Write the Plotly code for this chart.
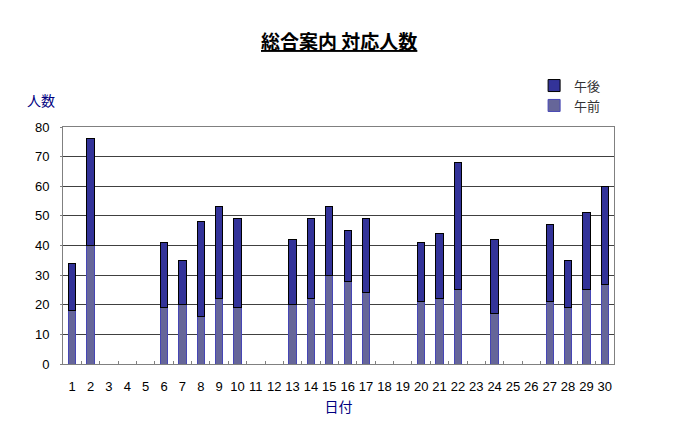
import plotly.graph_objects as go

days = [str(d) for d in range(1, 31)]

# 午前 (morning) and 午後 (afternoon) counts per day; None = no data
morning = [18, 40, None, None, None, 19, 20, 16, 22, 19,
           None, None, 20, 22, 30, 28, 24, None, None, 21,
           22, 25, None, 17, None, None, 21, 19, 25, 27]
total = [34, 76, None, None, None, 41, 35, 48, 53, 49,
         None, None, 42, 49, 53, 45, 49, None, None, 41,
         44, 68, None, 42, None, None, 47, 35, 51, 60]
afternoon = [t - m if t is not None else None for t, m in zip(total, morning)]

y_ticks = [0, 10, 20, 30, 40, 50, 60, 70, 80]

num_font = "Arial, Liberation Sans, Noto Sans CJK JP"
jp_font = "Noto Sans CJK JP, sans-serif"

fig = go.Figure()
fig.add_trace(go.Bar(
    x=days, y=morning, name="午前",
    marker=dict(color="#666699", line=dict(color="#4646b4", width=1)),
))
fig.add_trace(go.Bar(
    x=days, y=afternoon, name="午後",
    marker=dict(color="#333399", line=dict(color="#000000", width=1)),
))

# page body adds an 8px offset, so margins are shifted up/left by 8
fig.update_layout(
    width=683, height=442,
    barmode="stack", bargap=0.6,
    plot_bgcolor="white", paper_bgcolor="white",
    margin=dict(l=55, r=77, t=119, b=86, autoexpand=False),
    showlegend=True,
    legend=dict(
        x=0.855, y=1.238, xanchor="left", yanchor="top",
        traceorder="reversed",
        font=dict(family=jp_font, size=13, color="#333333"),
        itemwidth=30, tracegroupgap=0,
    ),
    annotations=[
        dict(text="<b><u>総合案内 対応人数</u></b>", x=0.5,
             y=1 + (127 - 40) / 237, xref="paper", yref="paper",
             yanchor="middle", showarrow=False,
             font=dict(family=jp_font, size=19, color="black")),
        dict(text="人数", xref="paper", yref="paper", x=-0.04, y=1.113,
             showarrow=False, xanchor="center", yanchor="middle",
             font=dict(family=jp_font, size=14, color="#000080")),
    ],
)

fig.update_xaxes(
    type="category", categoryorder="array", categoryarray=days,
    showline=True, linecolor="#808080", mirror=True,
    ticks="inside", ticklen=3, tickcolor="#808080", tickson="boundaries",
    tickangle=0, automargin=False, ticklabelstandoff=10,
    tickfont=dict(family=num_font, size=13, color="black"),
    title=dict(text="日付", standoff=9,
               font=dict(family=jp_font, size=14, color="#000080")),
)
fig.update_yaxes(
    range=[0, 80], tickvals=y_ticks, automargin=False,
    showgrid=True, gridcolor="#404040", gridwidth=1,
    showline=True, linecolor="#808080", mirror=True,
    ticks="outside", ticklen=2, tickcolor="#808080", ticklabelstandoff=8,
    tickfont=dict(family=num_font, size=13, color="black"),
    zeroline=False,
)

fig.write_html("out.html")
